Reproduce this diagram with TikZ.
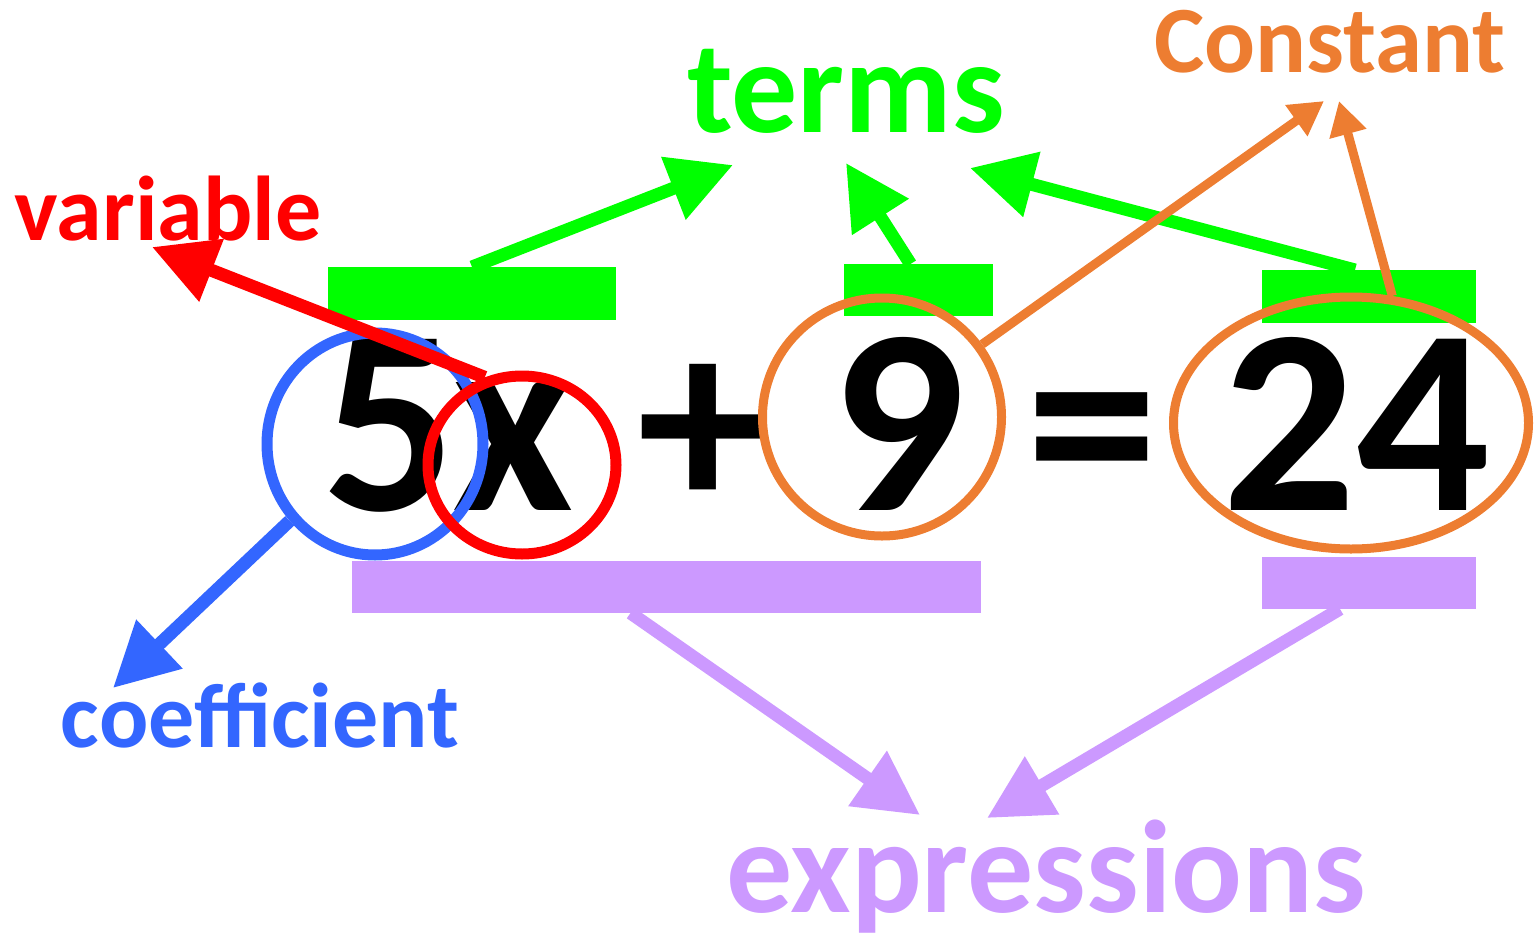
\documentclass[tikz,border=0pt]{standalone}
\usepackage{fontspec}
\setmainfont{Carlito}
\usetikzlibrary{arrows.meta,shapes.geometric}
\definecolor{TermGreen}{HTML}{00FF00}
\definecolor{VarRed}{HTML}{FF0000}
\definecolor{CoefBlue}{HTML}{3366FF}
\definecolor{ConstOrange}{HTML}{ED7D31}
\definecolor{ExprPurple}{HTML}{CC99FF}

\begin{document}
\begin{tikzpicture}[
  x=0.5pt, y=-0.5pt,
  eq/.style={font=\bfseries\fontsize{132}{132}\selectfont, inner sep=0, anchor=base},
  tag/.style={font=\bfseries\fontsize{#1}{#1}\selectfont, inner sep=0, anchor=base},
  bar/.style={fill=#1, inner sep=0, outer sep=0},
  ring/.style={draw=#1, ellipse, inner sep=0},
  arrow/.style={-{Triangle[length=32pt, width=32pt]}, line width=6.5pt, color=#1},
  thinarrow/.style={-{Triangle[length=17pt, width=18pt]}, line width=4.5pt, color=#1}
]
  \useasboundingbox (0,0) rectangle (1536,942);

  % bars over and under the equation
  \node[bar=TermGreen, minimum width=144pt, minimum height=26.5pt] (g1) at (472,293.5) {};
  \node[bar=TermGreen, minimum width=74.5pt, minimum height=26pt] (g2) at (918.5,290) {};
  \node[bar=TermGreen, minimum width=107pt, minimum height=26.5pt] (g3) at (1369,296.5) {};
  \node[bar=ExprPurple, minimum width=314.5pt, minimum height=26pt] (p1) at (666.5,587) {};
  \node[bar=ExprPurple, minimum width=107pt, minimum height=26pt] (p2) at (1369,583) {};

  % the equation
  \node[eq] (five) at (389,510) {5};
  \node[eq] (var) at (513,510) {x};
  \node[eq] (plus) at (703,510) {+};
  \node[eq] (nine) at (898,510) {9};
  \node[eq] (equals) at (1092,510) {=};
  \node[eq] (rhs) at (1356,510) {24};

  \node[ring=CoefBlue, line width=5.5pt, minimum width=108pt, minimum height=111pt] (c5) at (375,444) {};
  \node[ring=VarRed, line width=5.5pt, minimum width=94pt, minimum height=89pt] (cx) at (522,465) {};
  \node[ring=ConstOrange, line width=4.5pt, minimum width=119.5pt, minimum height=119pt] (c9) at (882,417) {};
  \node[ring=ConstOrange, line width=4.5pt, minimum width=177.5pt, minimum height=126pt] (c24) at (1351,423) {};

  % labels
  \node[tag=66, text=TermGreen] (terms) at (846,132) {terms};
  \node[tag=47.5, text=ConstOrange] (constant) at (1330,72) {Constant};
  \node[tag=46, text=VarRed] (variable) at (168,240) {variable};
  \node[tag=46, text=CoefBlue] (coefficient) at (260,747) {coefficient};
  \node[tag=66, text=ExprPurple] (expressions) at (1046,912) {expressions};

  \coordinate (tg1) at (733,165);
  \coordinate (tg2) at (846,163);
  \coordinate (tg3) at (970,168);
  \coordinate (tv) at (152,247);
  \coordinate (tc) at (113,688);
  \coordinate (tk1) at (1324,101);
  \coordinate (tk2) at (1339,101);
  \coordinate (te1) at (920,815);
  \coordinate (te2) at (987,818);

  \draw[arrow=TermGreen] (g1.north) -- (tg1);
  \draw[arrow=TermGreen] ([xshift=-4pt]g2.north) -- (tg2);
  \draw[arrow=TermGreen] ([xshift=-7pt]g3.north) -- (tg3);
  \draw[arrow=VarRed] (cx.113) -- (tv);
  \draw[arrow=CoefBlue] (c5.222) -- (tc);
  \draw[thinarrow=ConstOrange] (c9.36) -- (tk1);
  \draw[thinarrow=ConstOrange] (c24.72) -- (tk2);
  \draw[arrow=ExprPurple] ([xshift=-18pt]p1.south) -- (te1);
  \draw[arrow=ExprPurple] ([xshift=-14.5pt]p2.south) -- (te2);
\end{tikzpicture}
\end{document}
